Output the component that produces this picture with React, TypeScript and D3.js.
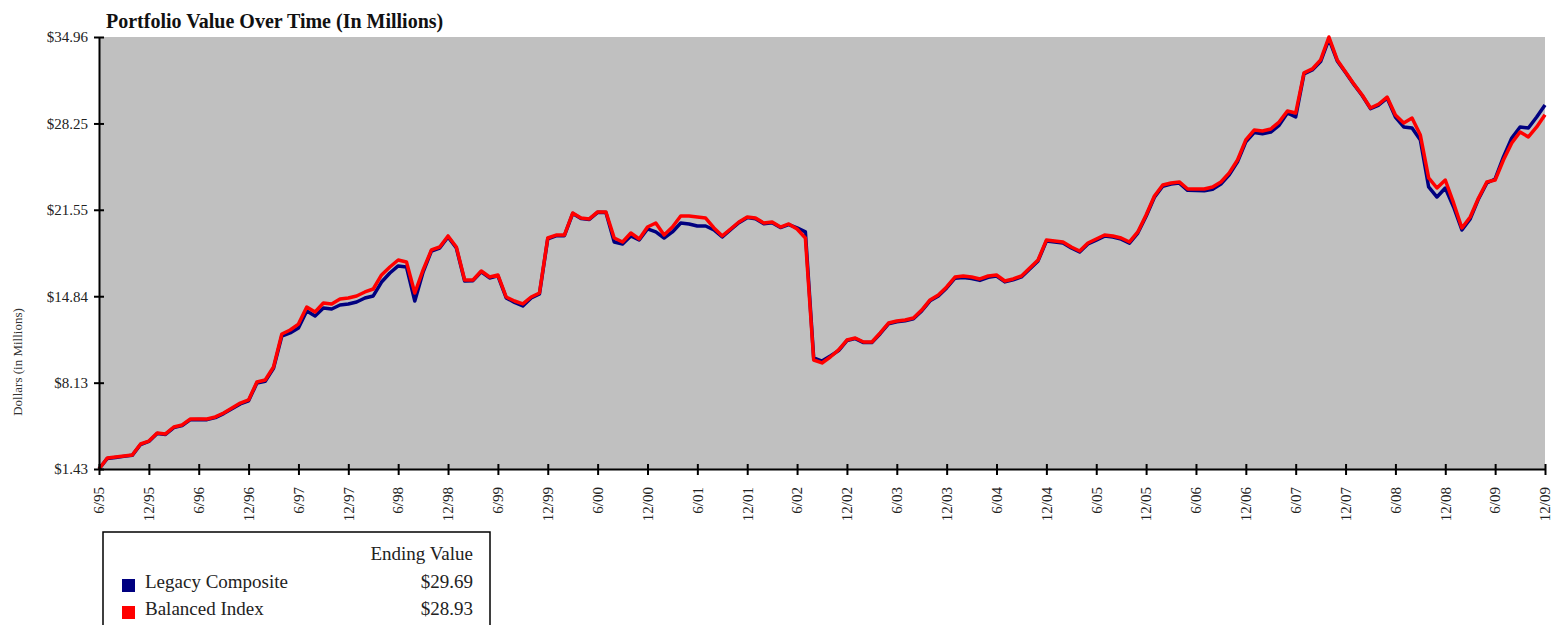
import React, { useEffect, useRef } from 'react';
import * as d3 from 'd3';

// Monthly values, 6/95 .. 12/09 (175 months), in $ millions
const legacyComposite = [
  1.43, 2.25, 2.33, 2.41, 2.49, 3.33, 3.57, 4.18, 4.11, 4.64, 4.8, 5.26, 5.27, 5.26, 5.42, 5.73,
  6.1, 6.48, 6.72, 8.1, 8.24, 9.25, 11.75, 11.99, 12.37, 13.69, 13.31, 13.93, 13.85, 14.16, 14.24,
  14.39, 14.7, 14.86, 15.94, 16.64, 17.19, 17.11, 14.47, 16.72, 18.35, 18.58, 19.44, 18.58, 16.02,
  16.05, 16.74, 16.26, 16.42, 14.71, 14.36, 14.08, 14.7, 15.02, 19.3, 19.53, 19.54, 21.26, 20.87,
  20.8, 21.35, 21.33, 19.05, 18.89, 19.52, 19.2, 20.06, 19.83, 19.36, 19.83, 20.52, 20.45, 20.29,
  20.29, 19.98, 19.44, 20.01, 20.55, 20.94, 20.86, 20.47, 20.55, 20.17, 20.4, 20.14, 19.83, 10.05,
  9.81, 10.2, 10.62, 11.4, 11.55, 11.24, 11.24, 11.93, 12.7, 12.86, 12.93, 13.09, 13.7, 14.48,
  14.86, 15.48, 16.24, 16.3, 16.22, 16.07, 16.31, 16.4, 15.95, 16.11, 16.34, 16.96, 17.58, 19.12,
  19.05, 18.97, 18.58, 18.27, 18.89, 19.2, 19.51, 19.44, 19.27, 18.96, 19.74, 21.05, 22.52, 23.38,
  23.55, 23.62, 23.06, 23.04, 23.02, 23.15, 23.55, 24.26, 25.28, 26.82, 27.55, 27.45, 27.58, 28.1,
  29.06, 28.75, 32.1, 32.4, 33.05, 34.8, 33.1, 32.2, 31.28, 30.42, 29.4, 29.68, 30.22, 28.75,
  27.98, 27.9, 26.97, 23.32, 22.54, 23.24, 21.77, 19.98, 20.84, 22.39, 23.63, 23.94, 25.65, 27.12,
  27.98, 27.9, 28.75, 29.69,
];

const balancedIndex = [
  1.43, 2.28, 2.36, 2.44, 2.52, 3.37, 3.6, 4.22, 4.15, 4.69, 4.85, 5.31, 5.31, 5.31, 5.47, 5.78,
  6.16, 6.55, 6.79, 8.18, 8.34, 9.35, 11.91, 12.22, 12.68, 14.0, 13.62, 14.31, 14.24, 14.63, 14.7,
  14.86, 15.17, 15.4, 16.49, 17.11, 17.65, 17.5, 15.09, 16.88, 18.43, 18.66, 19.52, 18.66, 16.1,
  16.1, 16.8, 16.33, 16.49, 14.78, 14.47, 14.24, 14.78, 15.09, 19.36, 19.59, 19.59, 21.3, 20.91,
  20.84, 21.38, 21.38, 19.36, 19.05, 19.75, 19.28, 20.21, 20.52, 19.59, 20.21, 21.07, 21.07, 20.99,
  20.91, 20.14, 19.52, 20.06, 20.6, 20.99, 20.91, 20.52, 20.6, 20.21, 20.45, 20.06, 19.36, 9.89,
  9.66, 10.12, 10.67, 11.44, 11.6, 11.29, 11.29, 11.99, 12.76, 12.92, 12.99, 13.15, 13.77, 14.55,
  14.94, 15.56, 16.33, 16.41, 16.33, 16.18, 16.41, 16.49, 16.02, 16.18, 16.41, 17.03, 17.65, 19.2,
  19.13, 19.05, 18.66, 18.35, 18.97, 19.28, 19.59, 19.52, 19.36, 19.05, 19.83, 21.15, 22.62, 23.47,
  23.63, 23.71, 23.16, 23.16, 23.16, 23.32, 23.71, 24.41, 25.41, 26.97, 27.74, 27.67, 27.82, 28.36,
  29.22, 29.06, 32.17, 32.48, 33.18, 34.96, 33.18, 32.25, 31.31, 30.46, 29.45, 29.76, 30.3, 28.91,
  28.29, 28.67, 27.35, 24.02, 23.24, 23.86, 22.08, 20.14, 20.99, 22.46, 23.71, 23.86, 25.41, 26.73,
  27.59, 27.2, 27.98, 28.93,
];

const xTickLabels = [
  '6/95', '12/95', '6/96', '12/96', '6/97', '12/97', '6/98', '12/98', '6/99', '12/99',
  '6/00', '12/00', '6/01', '12/01', '6/02', '12/02', '6/03', '12/03', '6/04', '12/04',
  '6/05', '12/05', '6/06', '12/06', '6/07', '12/07', '6/08', '12/08', '6/09', '12/09',
];

const yTickValues = [1.43, 8.13, 14.84, 21.55, 28.25, 34.96];
const yTickLabels = ['$1.43', '$8.13', '$14.84', '$21.55', '$28.25', '$34.96'];

const seriesNames = ['Legacy Composite', 'Balanced Index'];
const endingValues = ['$29.69', '$28.93'];

const FONT = '"Liberation Serif", "Times New Roman", serif';

const App: React.FC = () => {
  const svgRef = useRef<SVGSVGElement | null>(null);

  useEffect(() => {
    if (!svgRef.current) return;
    d3.select(svgRef.current).selectAll('*').remove();

    const width = 1553;
    const height = 625;
    const margin = { top: 37, right: 8, bottom: 156, left: 99 };
    const chartWidth = width - margin.left - margin.right;
    const chartHeight = height - margin.top - margin.bottom;

    const svg = d3.select(svgRef.current).attr('width', width).attr('height', height);

    const colors = ['#000080', '#FF0000'];
    const series = [legacyComposite, balancedIndex];

    const xScale = d3
      .scaleLinear()
      .domain([0, balancedIndex.length - 1])
      .range([0, chartWidth]);

    const yScale = d3
      .scaleLinear()
      .domain([yTickValues[0], yTickValues[yTickValues.length - 1]])
      .range([chartHeight, 0]);

    // Title
    svg
      .append('text')
      .attr('x', 106)
      .attr('y', 28)
      .style('font-family', FONT)
      .style('font-size', '20px')
      .style('font-weight', 'bold')
      .attr('fill', '#111')
      .text('Portfolio Value Over Time (In Millions)');

    // Y axis title
    svg
      .append('text')
      .attr('transform', `translate(22, 362) rotate(-90)`)
      .attr('text-anchor', 'middle')
      .style('font-family', FONT)
      .style('font-size', '13px')
      .attr('fill', '#333')
      .text('Dollars (in Millions)');

    const g = svg.append('g').attr('transform', `translate(${margin.left},${margin.top})`);

    // Plot background
    g.append('rect')
      .attr('x', 0)
      .attr('y', 0)
      .attr('width', chartWidth)
      .attr('height', chartHeight)
      .attr('fill', '#C0C0C0');

    // Lines (blue first, red on top)
    const line = d3
      .line<number>()
      .x((_, i) => xScale(i))
      .y((d) => yScale(d));

    series.forEach((s, i) => {
      g.append('path')
        .datum(s)
        .attr('fill', 'none')
        .attr('stroke', colors[i])
        .attr('stroke-width', 3.5)
        .attr('stroke-linejoin', 'round')
        .attr('d', line);
    });

    // Axes
    const xAxis = d3
      .axisBottom(xScale)
      .tickValues(d3.range(0, balancedIndex.length, 6))
      .tickSizeOuter(0)
      .tickFormat((_, i) => xTickLabels[i]);

    const xg = g.append('g').attr('transform', `translate(0,${chartHeight})`).call(xAxis);
    xg.select('.domain').attr('stroke', '#000').attr('stroke-width', 2);
    xg.selectAll('.tick line').attr('stroke', '#000').attr('stroke-width', 2).attr('y1', -5).attr('y2', 6);
    xg.selectAll('.tick text')
      .attr('transform', 'rotate(-90)')
      .attr('text-anchor', 'end')
      .attr('x', -18)
      .attr('y', 0)
      .attr('dy', '0.32em')
      .attr('fill', '#222')
      .style('font-family', FONT)
      .style('font-size', '15px');

    const yAxis = d3
      .axisLeft(yScale)
      .tickValues(yTickValues)
      .tickSizeOuter(0)
      .tickFormat((_, i) => yTickLabels[i]);

    const yg = g.append('g').call(yAxis);
    yg.select('.domain').attr('stroke', '#000').attr('stroke-width', 2);
    yg.selectAll('.tick line').attr('stroke', '#000').attr('stroke-width', 2).attr('x1', -5).attr('x2', 5);
    yg.selectAll('.tick text')
      .attr('x', -11)
      .attr('fill', '#222')
      .style('font-family', FONT)
      .style('font-size', '15px');

    // Legend box
    const lg = svg.append('g').attr('transform', 'translate(103,532)');
    lg.append('rect')
      .attr('x', 0)
      .attr('y', 0)
      .attr('width', 387)
      .attr('height', 120)
      .attr('fill', '#fff')
      .attr('stroke', '#000')
      .attr('stroke-width', 1.5);

    lg.append('text')
      .attr('x', 370)
      .attr('y', 28)
      .attr('text-anchor', 'end')
      .style('font-family', FONT)
      .style('font-size', '19px')
      .attr('fill', '#222')
      .text('Ending Value');

    seriesNames.forEach((name, i) => {
      const row = lg.append('g').attr('transform', `translate(0,${56 + i * 27})`);
      row.append('rect').attr('x', 19).attr('y', -9).attr('width', 13).attr('height', 13).attr('fill', colors[i]);
      row.append('text')
        .attr('x', 42)
        .attr('y', 0)
        .style('font-family', FONT)
        .style('font-size', '19px')
        .attr('fill', '#222')
        .text(name);
      row.append('text')
        .attr('x', 370)
        .attr('y', 0)
        .attr('text-anchor', 'end')
        .style('font-family', FONT)
        .style('font-size', '19px')
        .attr('fill', '#222')
        .text(endingValues[i]);
    });
  }, []);

  return (
    <svg
      ref={svgRef}
      style={{ position: 'absolute', left: 0, top: 0, background: '#fff' }}
    />
  );
};

export default App;
